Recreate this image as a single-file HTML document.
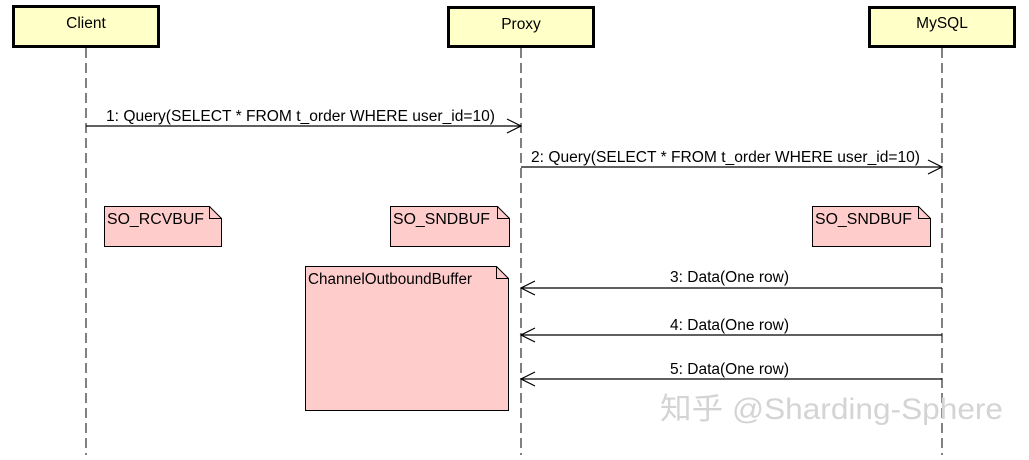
<!DOCTYPE html>
<html><head><meta charset="utf-8"><style>
body{margin:0;background:#fff;width:1029px;height:455px;overflow:hidden}
text{font-family:"Liberation Sans",sans-serif;font-size:15.5px;fill:#000}
</style></head><body>
<svg width="1029" height="455" xmlns="http://www.w3.org/2000/svg">
<g stroke="#000" stroke-width="1" stroke-dasharray="10,5" fill="none">
<line x1="86" y1="48" x2="86" y2="455"/>
<line x1="521" y1="48" x2="521" y2="455"/>
<line x1="942" y1="48" x2="942" y2="455"/>
</g>
<g fill="#ffffc8" stroke="#000" stroke-width="3">
<rect x="13.5" y="6.5" width="145" height="40"/>
<rect x="448.5" y="7.5" width="145" height="39"/>
<rect x="869.5" y="7.5" width="145" height="39"/>
</g>
<text x="86" y="28" text-anchor="middle">Client</text>
<text x="521" y="29" text-anchor="middle">Proxy</text>
<text x="942" y="28" text-anchor="middle">MySQL</text>
<g stroke="#000" stroke-width="1.2" fill="none">
<line x1="86" y1="126" x2="521" y2="126"/><polyline points="507,119 521,126 507,133"/>
<line x1="521" y1="167" x2="942" y2="167"/><polyline points="928,160 942,167 928,174"/>
<line x1="521" y1="288" x2="942" y2="288"/><polyline points="535,281 521,288 535,295"/>
<line x1="521" y1="335" x2="942" y2="335"/><polyline points="535,328 521,335 535,342"/>
<line x1="521" y1="379" x2="942" y2="379"/><polyline points="535,372 521,379 535,386"/>
</g>
<text x="106" y="121" textLength="389" lengthAdjust="spacingAndGlyphs">1: Query(SELECT * FROM t_order WHERE user_id=10)</text>
<text x="531" y="162" textLength="389" lengthAdjust="spacingAndGlyphs">2: Query(SELECT * FROM t_order WHERE user_id=10)</text>
<text x="670" y="282" textLength="119" lengthAdjust="spacingAndGlyphs">3: Data(One row)</text>
<text x="670" y="330" textLength="119" lengthAdjust="spacingAndGlyphs">4: Data(One row)</text>
<text x="670" y="374" textLength="119" lengthAdjust="spacingAndGlyphs">5: Data(One row)</text>
<g fill="#ffcccc" stroke="#000" stroke-width="1">
<path d="M104.5,206.5 H209.5 L221.5,218.5 V246.5 H104.5 Z"/>
<path d="M390.5,206.5 H497.5 L509.5,218.5 V246.5 H390.5 Z"/>
<path d="M812.5,206.5 H918.5 L930.5,218.5 V246.5 H812.5 Z"/>
<path d="M305.5,266.5 H496.5 L508.5,278.5 V410.5 H305.5 Z"/>
</g>
<g stroke="#000" fill="none">
<polyline points="209.5,206.5 209.5,218.5 221.5,218.5"/>
<polyline points="497.5,206.5 497.5,218.5 509.5,218.5"/>
<polyline points="918.5,206.5 918.5,218.5 930.5,218.5"/>
<polyline points="496.5,266.5 496.5,278.5 508.5,278.5"/>
</g>
<text x="107" y="224" textLength="97" lengthAdjust="spacingAndGlyphs">SO_RCVBUF</text>
<text x="393" y="224" textLength="97" lengthAdjust="spacingAndGlyphs">SO_SNDBUF</text>
<text x="815" y="224" textLength="97" lengthAdjust="spacingAndGlyphs">SO_SNDBUF</text>
<text x="308" y="284" textLength="164" lengthAdjust="spacingAndGlyphs">ChannelOutboundBuffer</text>
<text x="660" y="419" textLength="343" lengthAdjust="spacingAndGlyphs" style="font-family:'Liberation Sans','Noto Sans CJK SC',sans-serif;font-size:30px;fill:#d4d4d4">知乎 @Sharding-Sphere</text>
</svg>
</body></html>
